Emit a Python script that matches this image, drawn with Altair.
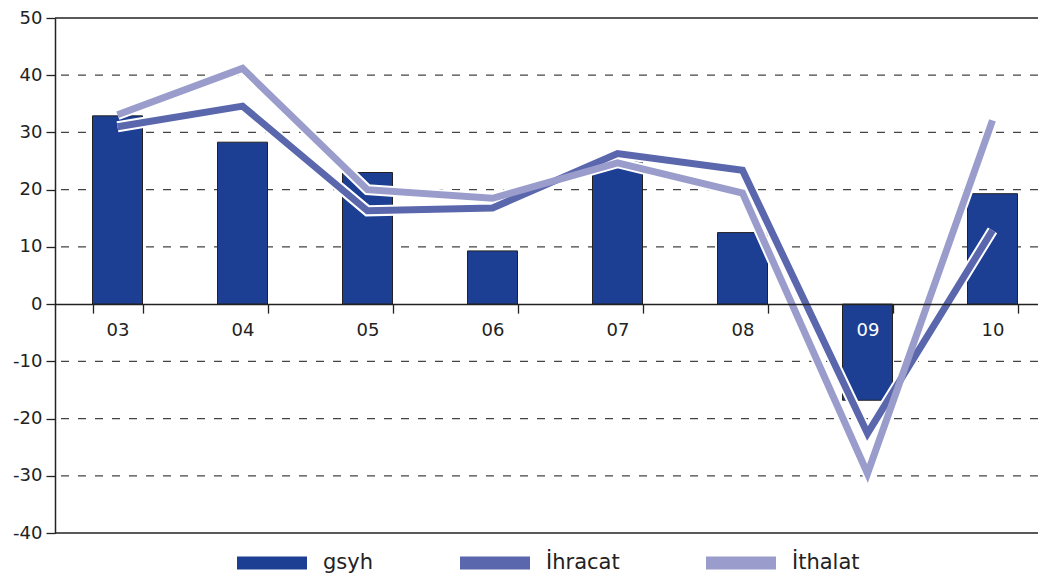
import altair as alt
import pandas as pd

categories = ["03", "04", "05", "06", "07", "08", "09", "10"]
gsyh = [32.9, 28.3, 23.0, 9.3, 25.3, 12.5, -16.8, 19.3]
ihracat = [31.0, 34.6, 16.3, 16.8, 26.3, 23.4, -22.6, 12.9]
ithalat = [33.1, 41.2, 20.0, 18.5, 24.7, 19.4, -29.6, 32.1]

series_names = ["gsyh", "İhracat", "İthalat"]
series_colors = ["#1c3f94", "#5b67ad", "#9a9ccb"]
y_ticks = [-40, -30, -20, -10, 0, 10, 20, 30, 40, 50]
grid_values = [-30, -20, -10, 10, 20, 30, 40]
border_values = [50, -40]

W, H = 983, 515
FONT = "DejaVu Sans"
INK = "#222222"

bars_df = pd.DataFrame({"cat": categories, "series": series_names[0], "value": gsyh})
lines_df = pd.concat([
    pd.DataFrame({"cat": categories, "series": series_names[1], "value": ihracat, "k": 0}),
    pd.DataFrame({"cat": categories, "series": series_names[2], "value": ithalat, "k": 1}),
], ignore_index=True)
grid_df = pd.DataFrame({"v": grid_values})
border_df = pd.DataFrame({"v": border_values})

x_scale = alt.Scale(domain=categories, paddingInner=0.6, paddingOuter=0.232, align=0.6466)
y_scale = alt.Scale(domain=[-40, 50], nice=False)

x_axis = alt.Axis(
    orient="bottom",
    offset=-(H * 40 / 90),
    tickBand="extent",
    tickSize=9,
    tickColor=INK,
    tickWidth=1.3,
    domainColor=INK,
    domainWidth=1.5,
    labelFontSize=18,
    labelPadding=8,
    labelAngle=0,
    labelColor={"condition": {"test": "datum.value === '%s'" % categories[6], "value": "white"}, "value": INK},
    title=None,
    grid=False,
    zindex=1,
)

y_axis = alt.Axis(
    values=y_ticks,
    grid=False,
    tickSize=9,
    tickColor=INK,
    tickWidth=1.3,
    domainColor=INK,
    domainWidth=1.5,
    labelFontSize=18,
    labelColor=INK,
    labelPadding=4,
    labelExpr="'' + datum.value",
    title=None,
)

grid = alt.Chart(grid_df).mark_rule(color="#444444", strokeWidth=1.3, strokeDash=[8, 9]).encode(
    y=alt.Y("v:Q", scale=y_scale, axis=y_axis)
)

borders = alt.Chart(border_df).mark_rule(color=INK, strokeWidth=1.5).encode(
    y=alt.Y("v:Q", scale=y_scale, axis=y_axis)
)

bars = alt.Chart(bars_df).mark_bar(stroke=INK, strokeWidth=1).encode(
    x=alt.X("cat:N", scale=x_scale, sort=categories, axis=x_axis),
    y=alt.Y("value:Q", scale=y_scale, axis=y_axis),
    fill=alt.Fill(
        "series:N",
        scale=alt.Scale(domain=series_names, range=series_colors),
        legend=alt.Legend(
            orient="none",
            legendX=182,
            legendY=510,
            direction="horizontal",
            title=None,
            symbolType="M-1,-0.186H1V0.186H-1Z",
            symbolSize=4900,
            symbolStrokeWidth=0,
            labelFontSize=21,
            labelColor=INK,
            labelOffset=16,
            columnPadding=86,
        ),
    ),
)

casing = alt.Chart(lines_df).mark_line(color="white", strokeWidth=11, strokeJoin="miter").encode(
    x=alt.X("cat:N", scale=x_scale, sort=categories, axis=x_axis),
    y=alt.Y("value:Q", scale=y_scale, axis=y_axis),
    detail="series:N",
)

lines = alt.Chart(lines_df).mark_line(strokeWidth=7, strokeJoin="miter").encode(
    x=alt.X("cat:N", scale=x_scale, sort=categories, axis=x_axis),
    y=alt.Y("value:Q", scale=y_scale, axis=y_axis),
    stroke=alt.Stroke(
        "series:N",
        scale=alt.Scale(domain=series_names[1:], range=series_colors[1:]),
        legend=None,
    ),
    order="k:Q",
)

chart = alt.layer(grid, borders, bars, casing, lines).properties(
    width=W,
    height=H,
    autosize=alt.AutoSizeParams(type="none"),
    padding={"left": 47, "top": 10, "right": 0, "bottom": 44},
).configure(font=FONT).configure_view(stroke=None)

chart.save("out.html", embed_options={"renderer": "svg", "actions": False})
